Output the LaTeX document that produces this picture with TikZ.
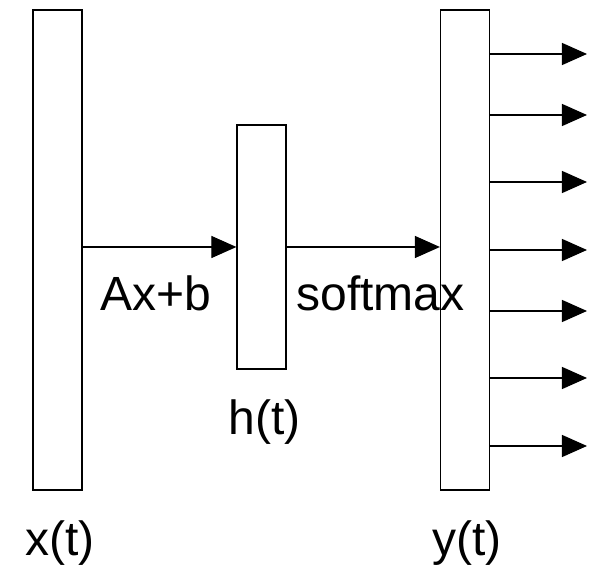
\documentclass[tikz,border=0pt]{standalone}
\usepackage{fontspec}
\setmainfont{Liberation Sans}
\usepackage{tikz}
\usetikzlibrary{arrows.meta, positioning, calc}

\tikzset{
  layer/.style={draw, line width=0.6pt, inner sep=0pt, minimum width=24.5pt},
  lbl/.style={inner sep=0pt, anchor=base west, font=\fontsize{24}{29}\selectfont},
  flow/.style={line width=0.6pt, -{Triangle[length=12.5pt, width=11pt]}}
}

\begin{document}
\begin{tikzpicture}[x=0.5pt, y=-0.5pt]
  \useasboundingbox (0,0) rectangle (591,566);
  % layers
  \node[layer, minimum height=240pt] (xbox) at (57.5,250) {};
  \node[layer, minimum height=122pt] (hbox) at (261.5,247) {};
  \node[layer, minimum height=240pt] (ybox) at (465,250) {};
  % labels
  \node[lbl] (xlab) at (25,556) {x(t)};
  \node[lbl] (hlab) at (228,435) {h(t)};
  \node[lbl] (ylab) at (432,556) {y(t)};
  \node[lbl] (affine) at (100,311) {Ax+b};
  \node[lbl] (smax) at (296,311) {softmax};
  % connections
  \draw[flow] (xbox.east |- hbox.west) -- (hbox.west);
  \draw[flow] (hbox.east) -- (ybox.west |- hbox.east);
  % outputs
  \foreach \y [count=\i] in {54,115,182,250,311,378,446} {
    \coordinate (out\i) at (587,\y);
    \draw[flow] (ybox.east |- out\i) -- (out\i);
  }
\end{tikzpicture}
\end{document}
